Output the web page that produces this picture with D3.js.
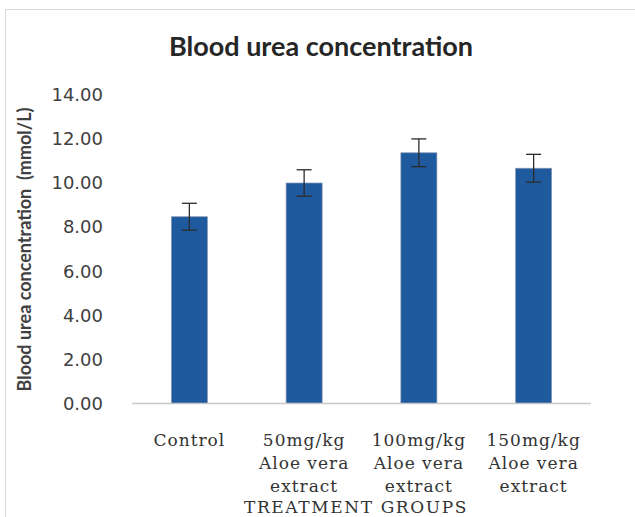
<!DOCTYPE html>
<html>
<head>
<meta charset="utf-8">
<script src="https://cdn.jsdelivr.net/npm/d3@7"></script>
<style>
  body { margin: 0; background: #fff; }
  svg { display: block; }
</style>
</head>
<body>
<div id="chart"></div>
<script>
const categories = ['Control', '50mg/kg', '100mg/kg', '150mg/kg'];
const subLines = [[], ['Aloe vera', 'extract'], ['Aloe vera', 'extract'], ['Aloe vera', 'extract']];
const means = [8.47, 10.0, 11.37, 10.67];
const errors = [0.61, 0.6, 0.63, 0.63];
const yTicks = [0, 2, 4, 6, 8, 10, 12, 14];

const width = 635, height = 517;
const plot = { left: 132, right: 591, top: 94.8, bottom: 403.5 };

const svg = d3.select('#chart').append('svg')
  .attr('width', width)
  .attr('height', height);

// chart area frame (cut off on the right and bottom like the source)
svg.append('rect')
  .attr('x', 5.5).attr('y', 9.5)
  .attr('width', 700).attr('height', 600)
  .attr('fill', '#fff')
  .attr('stroke', '#d9d9d9');

const x = d3.scaleBand()
  .domain(categories)
  .range([plot.left, plot.right])
  .paddingInner(0.686)
  .paddingOuter(0.343);

const y = d3.scaleLinear()
  .domain([0, 14])
  .range([plot.bottom, plot.top]);

svg.append('text')
  .attr('x', 321).attr('y', 56)
  .attr('text-anchor', 'middle')
  .style('font-family', 'Lato, "Open Sans", sans-serif')
  .style('font-weight', 'bold')
  .style('font-size', '27px')
  .attr('fill', '#262626')
  .text('Blood urea concentration');

// y tick labels
svg.append('g').selectAll('text')
  .data(yTicks)
  .join('text')
  .attr('x', 103)
  .attr('y', d => y(d))
  .attr('dy', '0.35em')
  .attr('text-anchor', 'end')
  .style('font-family', '"DejaVu Sans", sans-serif')
  .style('font-size', '18px')
  .attr('fill', '#404040')
  .text(d => d3.format('.2f')(d));

svg.append('text')
  .attr('transform', `translate(31, ${(101 + 398) / 2}) rotate(-90)`)
  .attr('text-anchor', 'middle')
  .style('font-family', 'Lato, "Open Sans", sans-serif')
  .style('font-weight', 'bold')
  .style('font-size', '18px')
  .attr('fill', '#404040')
  .attr('xml:space', 'preserve')
  .text('Blood urea concentration  (mmol/L)');

// bars
svg.append('g').selectAll('rect')
  .data(categories)
  .join('rect')
  .attr('x', d => x(d))
  .attr('width', x.bandwidth())
  .attr('y', (d, i) => y(means[i]))
  .attr('height', (d, i) => y(0) - y(means[i]))
  .attr('fill', '#1f5a9e')
  .attr('stroke', '#8797b0')
  .attr('stroke-width', 0.7);

// baseline
svg.append('line')
  .attr('x1', plot.left).attr('x2', plot.right)
  .attr('y1', y(0)).attr('y2', y(0))
  .attr('stroke', '#c8c8c8')
  .attr('stroke-width', 1.5);

// error bars
const eb = svg.append('g')
  .attr('stroke', '#2b2b2b')
  .attr('stroke-width', 1.3);
categories.forEach((c, i) => {
  const cx = x(c) + x.bandwidth() / 2;
  const hi = y(means[i] + errors[i]);
  const lo = y(means[i] - errors[i]);
  eb.append('line').attr('x1', cx).attr('x2', cx).attr('y1', hi).attr('y2', lo);
  eb.append('line').attr('x1', cx - 7.5).attr('x2', cx + 7.5).attr('y1', hi).attr('y2', hi);
  eb.append('line').attr('x1', cx - 7.5).attr('x2', cx + 7.5).attr('y1', lo).attr('y2', lo);
});

// category labels
const lab = svg.append('g')
  .style('font-family', '"DejaVu Serif", serif')
  .style('font-size', '17px')
  .style('letter-spacing', '1px')
  .attr('fill', '#333')
  .attr('text-anchor', 'middle');
categories.forEach((c, i) => {
  const cx = x(c) + x.bandwidth() / 2;
  [c].concat(subLines[i]).forEach((line, j) => {
    lab.append('text')
      .attr('x', cx)
      .attr('y', 440 + j * 23)
      .attr('dy', '0.35em')
      .text(line);
  });
});

svg.append('text')
  .attr('x', 356).attr('y', 507)
  .attr('dy', '0.35em')
  .attr('text-anchor', 'middle')
  .style('font-family', '"DejaVu Serif", serif')
  .style('font-size', '17px')
  .style('letter-spacing', '1.6px')
  .attr('fill', '#333')
  .text('TREATMENT GROUPS');
</script>
</body>
</html>
